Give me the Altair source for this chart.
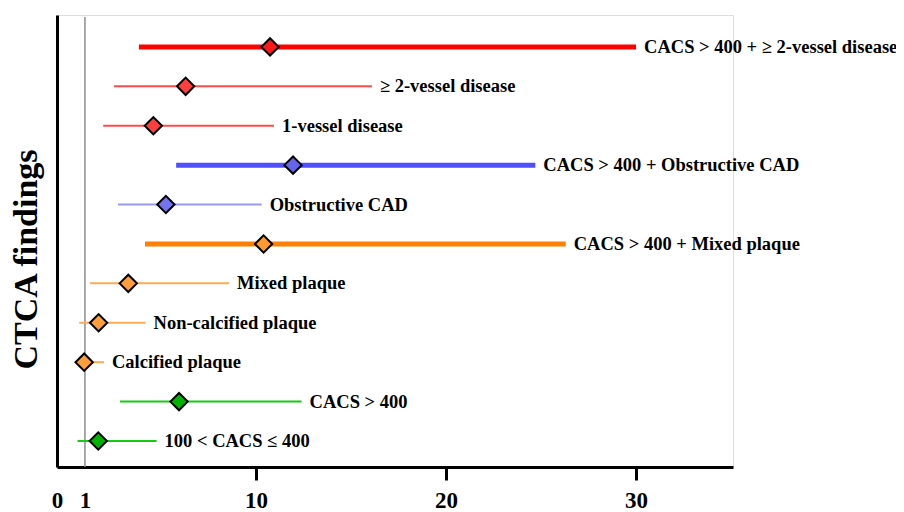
import altair as alt
import pandas as pd

# ---- data (top to bottom) ----
labels = [
    "CACS > 400 + \u2265 2-vessel disease",
    "\u2265 2-vessel disease",
    "1-vessel disease",
    "CACS > 400 + Obstructive CAD",
    "Obstructive CAD",
    "CACS > 400 + Mixed plaque",
    "Mixed plaque",
    "Non-calcified plaque",
    "Calcified plaque",
    "CACS > 400",
    "100 < CACS \u2264 400",
]
estimate = [10.74, 6.3, 4.6, 11.95, 5.26, 10.4, 3.28, 1.72, 0.96, 5.95, 1.7]
lower = [3.84, 2.53, 1.96, 5.8, 2.74, 4.16, 1.26, 0.7, 0.65, 2.84, 0.61]
upper = [30.0, 16.1, 10.95, 24.7, 10.3, 26.3, 8.58, 4.19, 2.0, 12.4, 4.77]
kind = ["vessel+", "vessel", "vessel", "cad+", "cad", "plaque+", "plaque",
        "plaque", "plaque", "cacs", "cacs"]
x_ticks = [-0.47, 1, 10, 20, 30]

# ---- styles ----
kinds = ["vessel+", "vessel", "cad+", "cad", "plaque+", "plaque", "cacs"]
line_colors = ["#ff0000", "#ff4a4a", "#4f4fff", "#9a9af2", "#ff8000", "#ffaa55", "#11cc11"]
fill_colors = ["#ff1a1a", "#ff3f3f", "#6464f0", "#7474ee", "#ff9a2e", "#ff9e3a", "#00b300"]
thick_kinds = ["vessel+", "cad+", "plaque+"]

n = len(labels)
df = pd.DataFrame({
    "label": labels,
    "est": estimate,
    "lo": lower,
    "hi": upper,
    "kind": kind,
    "pos": [n - i for i in range(n)],
})

FONT = "Liberation Serif"
xscale = alt.Scale(domain=[-0.47, 35.1], nice=False, zero=False)
yscale = alt.Scale(domain=[0.34, 11.81], nice=False, zero=False)
cscale = alt.Scale(domain=kinds, range=line_colors)

base = alt.Chart(df)

ref = alt.Chart(pd.DataFrame({"v": [1]})).mark_rule(
    color="#8c8c8c", strokeWidth=1.5
).encode(
    x=alt.X("v:Q", scale=xscale),
    y=alt.value(2),
    y2=alt.value(452),
)

xaxis = alt.Axis(values=x_ticks, title=None, grid=False,
                 labelExpr="datum.value < 0 ? '0' : datum.label",
                 labelFont=FONT, labelFontSize=23, labelFontWeight="bold",
                 labelColor="black", labelPadding=9,
                 labelOverlap=False, labelFlush=False,
                 domainColor="black", domainWidth=3,
                 tickColor="black", tickWidth=3, tickSize=13,
                 tickOpacity={"condition": {"test": "datum.value <= 1", "value": 0},
                              "value": 1})
yaxis = alt.Axis(title="CTCA findings", labels=False, ticks=False, grid=False,
                 domainColor="black", domainWidth=3,
                 titleFont=FONT, titleFontSize=34, titleFontWeight="bold",
                 titleColor="black", titleAngle=270, titleBaseline="alphabetic",
                 titleAlign="center", titleX=-21, titleY=244)

ci_thick = base.transform_filter(
    alt.FieldOneOfPredicate(field="kind", oneOf=thick_kinds)
).mark_rule(strokeWidth=5).encode(
    x=alt.X("lo:Q", scale=xscale, axis=xaxis),
    x2="hi:Q",
    y=alt.Y("pos:Q", scale=yscale, axis=yaxis),
    color=alt.Color("kind:N", scale=cscale, legend=None),
)

ci_thin = base.transform_filter(
    ~alt.FieldOneOfPredicate(field="kind", oneOf=thick_kinds)
).mark_rule(strokeWidth=2).encode(
    x=alt.X("lo:Q", scale=xscale),
    x2="hi:Q",
    y=alt.Y("pos:Q", scale=yscale),
    color=alt.Color("kind:N", scale=cscale, legend=None),
)

pts = base.mark_point(shape="diamond", filled=True, size=300, stroke="black",
                      strokeWidth=2, opacity=1).encode(
    x=alt.X("est:Q", scale=xscale),
    y=alt.Y("pos:Q", scale=yscale),
    fill=alt.Fill("kind:N", scale=alt.Scale(domain=kinds, range=fill_colors), legend=None),
)

txt = base.mark_text(align="left", baseline="middle", dx=8, font=FONT, fontSize=18.5,
                     fontWeight="bold", color="black").encode(
    x=alt.X("hi:Q", scale=xscale),
    y=alt.Y("pos:Q", scale=yscale),
    text="label:N",
)

chart = alt.layer(ref, ci_thick, ci_thin, pts, txt).properties(
    width=676, height=452,
    autosize=alt.AutoSizeParams(type="none"),
    padding={"left": 49, "top": 7, "right": 163, "bottom": 50},
).configure_view(stroke="transparent", strokeWidth=0).configure(background="white")

chart.save("out.html", embed_options={"renderer": "svg", "actions": False})
